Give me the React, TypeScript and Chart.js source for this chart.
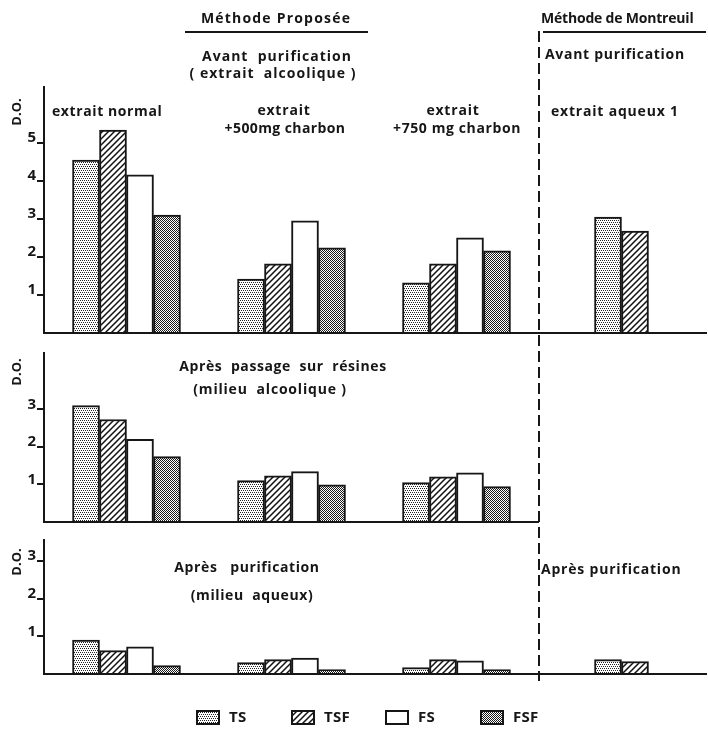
import React, { useEffect, useRef } from "react";
import { Chart, registerables } from "chart.js";

Chart.register(...registerables);

const categories = ["extrait normal", "extrait +500mg charbon", "extrait +750 mg charbon", "extrait aqueux 1"];
const seriesNames = ["TS", "TSF", "FS", "FSF"];

// Panel 1 : Avant purification
const p1TS = [4.55, 1.42, 1.32, 3.05];
const p1TSF = [5.34, 1.82, 1.82, 2.68];
const p1FS = [4.16, 2.95, 2.5, null];
const p1FSF = [3.1, 2.24, 2.16, null];

// Panel 2 : Après passage sur résines
const p2TS = [3.1, 1.1, 1.05, null];
const p2TSF = [2.73, 1.23, 1.2, null];
const p2FS = [2.2, 1.34, 1.31, null];
const p2FSF = [1.74, 0.99, 0.94, null];

// Panel 3 : Après purification
const p3TS = [0.9, 0.3, 0.17, 0.38];
const p3TSF = [0.62, 0.38, 0.38, 0.33];
const p3FS = [0.72, 0.42, 0.35, null];
const p3FSF = [0.22, 0.12, 0.12, null];

const p1Ticks = [1, 2, 3, 4, 5];
const p2Ticks = [1, 2, 3];
const p3Ticks = [1, 2, 3];

const W = 708;
const H = 731;
const FONT = '"Open Sans", "DejaVu Sans", sans-serif';
const INK = "#161616";

function makePatterns() {
  const mk = (w: number, h: number, draw: (c: CanvasRenderingContext2D) => void) => {
    const cv = document.createElement("canvas");
    cv.width = w;
    cv.height = h;
    const c = cv.getContext("2d")!;
    c.fillStyle = "#fff";
    c.fillRect(0, 0, w, h);
    draw(c);
    return c.createPattern(cv, "repeat")!;
  };
  const ts = mk(4, 4, (c) => {
    c.fillStyle = "#222";
    c.fillRect(0, 0, 1, 1);
    c.fillRect(2, 0, 1, 1);
    c.fillRect(1, 2, 1, 1);
    c.fillRect(3, 2, 1, 1);
  });
  const tsf = mk(6, 6, (c) => {
    c.strokeStyle = "#111";
    c.lineWidth = 1.5;
    c.beginPath();
    c.moveTo(-1, 7);
    c.lineTo(7, -1);
    c.moveTo(-4, 4);
    c.lineTo(4, -4);
    c.moveTo(2, 10);
    c.lineTo(10, 2);
    c.stroke();
  });
  const fs = "#ffffff";
  const fsf = mk(2, 2, (c) => {
    c.fillStyle = "#1a1a1a";
    c.fillRect(0, 0, 1, 1);
    c.fillRect(1, 1, 1, 1);
  });
  return [ts, tsf, fs, fsf];
}

function dividerX(chart: any) {
  const x = chart.scales.x;
  return (x.getPixelForValue(2) + x.getPixelForValue(3)) / 2;
}

function text(ctx: CanvasRenderingContext2D, s: string, x: number, y: number, align: CanvasTextAlign = "center", spacing = 0, size = 14, weight = 700) {
  ctx.save();
  ctx.font = `${weight} ${size}px ${FONT}`;
  ctx.fillStyle = INK;
  ctx.textAlign = align;
  ctx.textBaseline = "middle";
  (ctx as any).letterSpacing = `${spacing}px`;
  ctx.fillText(s, x, y);
  ctx.restore();
}

function vText(ctx: CanvasRenderingContext2D, s: string, x: number, y: number) {
  ctx.save();
  ctx.translate(x, y);
  ctx.rotate(-Math.PI / 2);
  ctx.font = `700 13px ${FONT}`;
  ctx.fillStyle = INK;
  ctx.textAlign = "center";
  ctx.textBaseline = "middle";
  ctx.fillText(s, 0, 0);
  ctx.restore();
}

function baselinePlugin(toDivider: boolean) {
  return {
    id: "baseline",
    afterDatasetsDraw(chart: any) {
      const { ctx, chartArea, scales } = chart;
      const y = scales.y.getPixelForValue(0);
      const xEnd = toDivider ? dividerX(chart) : W - 1;
      ctx.save();
      ctx.strokeStyle = INK;
      ctx.lineWidth = 2;
      ctx.beginPath();
      ctx.moveTo(chartArea.left - 1, y);
      ctx.lineTo(xEnd, y);
      ctx.stroke();
      ctx.restore();
    },
  };
}

const annotationPlugin = {
  id: "annotations",
  afterDraw(chart: any) {
    const ctx: CanvasRenderingContext2D = chart.ctx;
    const dx = dividerX(chart);
    // dashed divider
    ctx.save();
    ctx.strokeStyle = INK;
    ctx.lineWidth = 2;
    ctx.setLineDash([11, 5]);
    ctx.beginPath();
    ctx.moveTo(dx, 31);
    ctx.lineTo(dx, 681);
    ctx.stroke();
    ctx.setLineDash([]);
    // underlines
    ctx.beginPath();
    ctx.moveTo(185, 32);
    ctx.lineTo(368, 32);
    ctx.moveTo(dx + 4, 32);
    ctx.lineTo(706, 32);
    ctx.stroke();
    ctx.restore();

    text(ctx, "Méthode Proposée", 276, 19, "center", 1.2);
    text(ctx, "Méthode de Montreuil", 541, 19, "left", -0.2);
    text(ctx, "Avant  purification", 277, 57, "center", 1);
    text(ctx, "( extrait  alcoolique )", 273, 74, "center", 1);
    text(ctx, "extrait normal", 52, 112, "left", 0.6);
    text(ctx, "extrait", 284, 111, "center", 0.8);
    text(ctx, "+500mg charbon", 285, 129, "center", 0.4);
    text(ctx, "extrait", 453, 111, "center", 0.8);
    text(ctx, "+750 mg charbon", 457, 129, "center", 0.6);
    text(ctx, "Avant purification", 545, 55, "left", 0.7);
    text(ctx, "extrait aqueux 1", 551, 112, "left", 0.8);
    text(ctx, "Après  passage  sur  résines", 283, 367, "center", 0.6);
    text(ctx, "(milieu  alcoolique )", 270, 390, "center", 0.8);
    text(ctx, "Après   purification", 247, 568, "center", 0.6);
    text(ctx, "(milieu  aqueux)", 252, 596, "center", 0.6);
    text(ctx, "Après purification", 541, 570, "left", 0.8);

    vText(ctx, "D.O.", 17, 112);
    vText(ctx, "D.O.", 17, 372);
    vText(ctx, "D.O.", 17, 562);

    // legend
    const legendX = [197, 292, 386, 481];
    chart.data.datasets.forEach((ds: any, i: number) => {
      const x = legendX[i];
      ctx.save();
      ctx.fillStyle = ds.backgroundColor;
      ctx.fillRect(x, 711, 22, 13);
      ctx.strokeStyle = INK;
      ctx.lineWidth = 2;
      ctx.strokeRect(x, 711, 22, 13);
      ctx.restore();
      text(ctx, ds.label, x + 32, 718, "left", 0.3, 15, 700);
    });
  },
};

function makeConfig(
  data: (number | null)[][],
  patterns: any[],
  top: number,
  bottom: number,
  yMax: number,
  tickVals: number[],
  plugins: any[]
) {
  return {
    type: "bar" as const,
    data: {
      labels: categories,
      datasets: seriesNames.map((name, i) => ({
        label: name,
        data: data[i],
        backgroundColor: patterns[i],
        borderColor: INK,
        borderWidth: 2,
        borderSkipped: "bottom",
        barThickness: 27,
        skipNull: true,
      })),
    },
    options: {
      responsive: false,
      animation: false,
      events: [],
      layout: { padding: { top, bottom: H - bottom, left: 0, right: 4 } },
      plugins: { legend: { display: false }, tooltip: { enabled: false } },
      scales: {
        x: { display: false, offset: true },
        y: {
          min: 0,
          max: yMax,
          afterFit: (scale: any) => {
            scale.width = 44;
          },
          afterBuildTicks: (scale: any) => {
            scale.ticks = [0, ...tickVals, yMax].map((v) => ({ value: v }));
          },
          border: { display: true, color: INK, width: 2 },
          grid: {
            drawOnChartArea: false,
            drawTicks: true,
            tickLength: 7,
            lineWidth: 2,
            color: (c: any) => (tickVals.includes(c.tick?.value) ? INK : "rgba(0,0,0,0)"),
          },
          ticks: {
            padding: 1,
            labelOffset: -5,
            color: INK,
            font: { family: FONT, size: 15, weight: "bold" },
            callback: (v: any) => (tickVals.includes(Number(v)) ? String(v) : ""),
          },
        },
      },
    },
    plugins,
  };
}

export default function App() {
  const c1 = useRef<HTMLCanvasElement>(null);
  const c2 = useRef<HTMLCanvasElement>(null);
  const c3 = useRef<HTMLCanvasElement>(null);

  useEffect(() => {
    const patterns = makePatterns();
    const ch1 = new Chart(
      c1.current!,
      makeConfig([p1TS, p1TSF, p1FS, p1FSF], patterns, 87, 333, 6.47, p1Ticks, [baselinePlugin(false)]) as any
    );
    const ch2 = new Chart(
      c2.current!,
      makeConfig([p2TS, p2TSF, p2FS, p2FSF], patterns, 353, 522, 4.5, p2Ticks, [baselinePlugin(true)]) as any
    );
    const ch3 = new Chart(
      c3.current!,
      makeConfig([p3TS, p3TSF, p3FS, p3FSF], patterns, 540, 674, 3.55, p3Ticks, [baselinePlugin(false), annotationPlugin]) as any
    );
    return () => {
      ch1.destroy();
      ch2.destroy();
      ch3.destroy();
    };
  }, []);

  const cs: React.CSSProperties = { position: "absolute", left: 0, top: 0, width: W, height: H };
  return (
    <div style={{ position: "absolute", left: 0, top: 0, width: W, height: H, background: "#fff" }}>
      <canvas ref={c1} width={W} height={H} style={cs} />
      <canvas ref={c2} width={W} height={H} style={cs} />
      <canvas ref={c3} width={W} height={H} style={cs} />
    </div>
  );
}
